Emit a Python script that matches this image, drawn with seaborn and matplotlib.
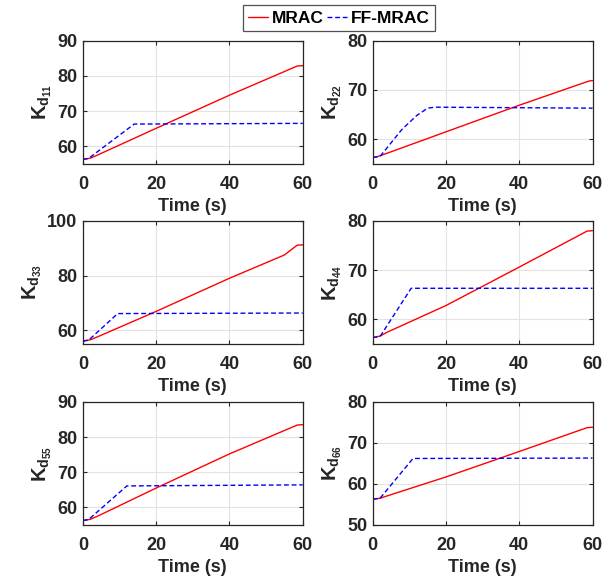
import matplotlib
matplotlib.use("Agg")
import matplotlib.pyplot as plt
import seaborn as sns
import pandas as pd

# ---- data (breakpoints of each curve) ----
mrac_t = {
    "11": [0, 2, 4, 20, 40, 58.5, 60],
    "22": [0, 1, 3, 20, 40, 59, 60],
    "33": [0, 2, 4, 20, 40, 55, 58.5, 60],
    "44": [0, 2, 4, 20, 40, 58.5, 60],
    "55": [0, 2, 4, 20, 40, 58.5, 60],
    "66": [0, 2, 4, 20, 40, 58.5, 60],
}
mrac_v = {
    "11": [56.3, 56.6, 57.5, 65.1, 74.5, 82.8, 82.9],
    "22": [56.3, 56.4, 56.9, 61.5, 66.9, 71.8, 71.9],
    "33": [56.1, 56.5, 57.6, 66.9, 79.0, 87.5, 91.1, 91.2],
    "44": [56.3, 56.6, 57.4, 62.8, 70.6, 77.9, 78.0],
    "55": [56.3, 56.6, 57.5, 65.5, 75.2, 83.4, 83.5],
    "66": [56.3, 56.5, 57.1, 61.7, 67.9, 73.7, 73.8],
}
ff_t = {
    "11": [0, 1.5, 14, 60],
    "22": [0, 2, 8, 12, 15, 17, 60],
    "33": [0, 1.5, 9.5, 60],
    "44": [0, 2, 10.5, 60],
    "55": [0, 1.5, 12, 60],
    "66": [0, 2, 11, 60],
}
ff_v = {
    "11": [56.3, 56.5, 66.3, 66.5],
    "22": [56.3, 56.5, 62.0, 64.8, 66.3, 66.5, 66.3],
    "33": [56.1, 56.3, 66.1, 66.3],
    "44": [56.3, 56.5, 66.3, 66.3],
    "55": [56.3, 56.5, 66.1, 66.4],
    "66": [56.3, 56.5, 66.2, 66.3],
}
ylims = {"11": (55, 90), "22": (55, 80), "33": (55, 100),
         "44": (55, 80), "55": (55, 90), "66": (50, 80)}
yticks = {"11": [60, 70, 80, 90], "22": [60, 70, 80], "33": [60, 80, 100],
          "44": [60, 70, 80], "55": [60, 70, 80, 90], "66": [50, 60, 70, 80]}
xticks = [0, 20, 40, 60]
order = ["11", "22", "33", "44", "55", "66"]
series_names = ["MRAC", "FF-MRAC"]

sns.set_theme(style="whitegrid")
plt.rcParams["font.family"] = ["Liberation Sans", "DejaVu Sans"]
plt.rcParams["font.weight"] = "bold"
plt.rcParams["mathtext.fontset"] = "custom"
plt.rcParams["mathtext.rm"] = "Liberation Sans:bold"
plt.rcParams["mathtext.it"] = "Liberation Sans:bold"
plt.rcParams["mathtext.bf"] = "Liberation Sans:bold"

fig = plt.figure(figsize=(6.14, 5.81), dpi=100)
lefts = [0.135, 0.607]
bottoms = [0.718, 0.408, 0.0964]
w, h = 0.358, 0.212
dark = "#262626"

handles = None
for i, key in enumerate(order):
    r, c = divmod(i, 2)
    ax = fig.add_axes([lefts[c], bottoms[r], w, h])
    df = pd.concat([
        pd.DataFrame({"t": mrac_t[key], "v": mrac_v[key], "s": series_names[0]}),
        pd.DataFrame({"t": ff_t[key], "v": ff_v[key], "s": series_names[1]}),
    ])
    sns.lineplot(data=df, x="t", y="v", hue="s", style="s",
                 palette={"MRAC": "#ff0000", "FF-MRAC": "#0000ff"},
                 dashes={"MRAC": "", "FF-MRAC": (3.5, 2.0)},
                 estimator=None, sort=False, linewidth=1.0, ax=ax, legend=True)
    if handles is None:
        handles, labels = ax.get_legend_handles_labels()
    ax.get_legend().remove()
    ax.set_xlim(0, 60)
    ax.set_ylim(*ylims[key])
    ax.set_xticks(xticks)
    ax.set_yticks(yticks[key])
    ax.grid(True, color="#e3e3e3", linewidth=0.8)
    ax.set_facecolor("white")
    for sp in ax.spines.values():
        sp.set_visible(True)
        sp.set_color(dark)
        sp.set_linewidth(0.9)
    ax.tick_params(direction="in", length=3, width=0.8, colors=dark,
                   labelsize=13, top=True, right=True, bottom=True, left=True)
    ax.tick_params(axis="x", pad=9)
    ax.tick_params(axis="y", pad=4)
    for lab in ax.get_xticklabels() + ax.get_yticklabels():
        lab.set_fontweight("bold")
    ax.set_xlabel("Time (s)", fontsize=13, fontweight="bold", color=dark, labelpad=3)
    ax.set_ylabel(r"$\mathbf{K_{d_{%s}}}$" % key, fontsize=14.5, color=dark, labelpad=2)

leg = fig.legend(handles, ["MRAC", "FF-MRAC"], loc="center",
                 bbox_to_anchor=(0.552, 0.969), ncol=2, frameon=True,
                 fancybox=False, handlelength=1.15, handletextpad=0.2,
                 columnspacing=0.2, borderpad=0.3, borderaxespad=0,
                 prop={"weight": "bold", "size": 12.5})
leg.get_frame().set_edgecolor(dark)
leg.get_frame().set_linewidth(0.9)
for t in leg.get_texts():
    t.set_color("black")

fig.savefig("out.png", dpi=100, facecolor="white")
